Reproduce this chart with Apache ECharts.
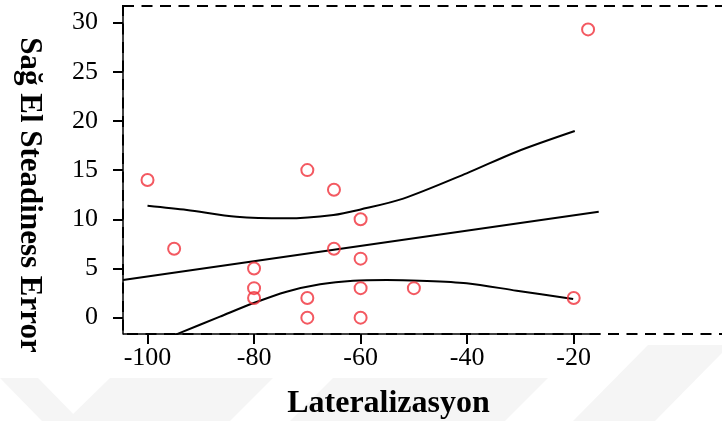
<!DOCTYPE html>
<html>
<head>
<meta charset="utf-8">
<script src="https://cdn.jsdelivr.net/npm/echarts@6/dist/echarts.min.js"></script>
<style>
  html, body { margin: 0; padding: 0; background: #fff; }
  #chart { width: 722px; height: 421px; }
</style>
</head>
<body>
<div id="chart"></div>
<script>
// Lateralizasyon vs Sag El Steadiness Error - scatter with fit line and CI bands

const FONT = '"Liberation Serif", "DejaVu Serif", serif';
const RED = '#f0303a';

const xTicks = [-100, -80, -60, -40, -20];
const yTicks = [0, 5, 10, 15, 20, 25, 30];

// observations
const lateral = [-100, -95, -80, -80, -80, -70, -70, -70, -65, -65, -60, -60, -60, -60, -50, -20, -17.3];
const errorVals = [14, 7, 5, 3, 2, 15, 2, 0, 13, 7, 10, 6, 3, 0, 3, 2, 29.3];

// fit line
const fitX = [-104.6, -15.3];
const fitY = [3.83, 10.77];

// upper / lower confidence curves
const upperX = [-100, -92.6, -83.3, -73.9, -65.1, -60, -52, -40.1, -30.7, -19.8];
const upperY = [11.38, 10.95, 10.26, 10.1, 10.44, 11.0, 12.1, 14.67, 16.87, 18.97];
const lowerX = [-100, -93.9, -86.4, -80.2, -73.9, -67.6, -61.4, -55.1, -48.9, -40.1, -30.7, -20.1];
const lowerY = [-2.9, -1.55, 0.1, 1.46, 2.64, 3.39, 3.76, 3.83, 3.76, 3.5, 2.74, 1.9];

const zip = (xs, ys) => xs.map((x, i) => [x, ys[i]]);

const chart = echarts.init(document.getElementById('chart'));

const lineSeries = (data) => ({
  type: 'line',
  data: data,
  smooth: 0.3,
  symbol: 'none',
  lineStyle: { color: '#000', width: 2 },
  clip: true,
  z: 2,
  silent: true,
});

chart.setOption({
  animation: false,
  backgroundColor: '#fff',
  grid: {
    left: 123, top: 6, right: -3, bottom: 87,
    outerBoundsMode: 'none',
    containLabel: false,
    show: true, borderColor: '#000', borderWidth: 2, borderType: [11, 7.5],
  },
  xAxis: {
    type: 'value',
    min: -104.6, max: 8.4,
    name: 'Lateralizasyon',
    nameLocation: 'middle',
    nameGap: 54,
    nameTextStyle: { fontFamily: FONT, fontSize: 32, fontWeight: 'bold', color: '#000', padding: [0, 71, 0, 0] },
    axisLine: { show: false, onZero: false },
    axisTick: { show: true, customValues: xTicks, length: 10, lineStyle: { color: '#000', width: 2 } },
    axisLabel: { customValues: xTicks, fontFamily: FONT, fontSize: 26, color: '#000', margin: 11 },
    splitLine: { show: false },
  },
  yAxis: {
    type: 'value',
    min: -1.66, max: 31.68,
    name: 'Sağ El Steadiness Error',
    nameLocation: 'middle',
    nameRotate: -90,
    nameGap: 78,
    nameTextStyle: { fontFamily: FONT, fontSize: 31, fontWeight: 'bold', color: '#000', padding: [0, 0, 0, 50] },
    axisLine: { show: true, onZero: false, lineStyle: { color: '#000', width: 1.5 } },
    axisTick: { show: true, customValues: yTicks, length: 10, lineStyle: { color: '#000', width: 2 } },
    axisLabel: { customValues: yTicks, fontFamily: FONT, fontSize: 26, color: '#000', margin: 25 },
    splitLine: { show: false },
  },
  series: [
    lineSeries(zip(fitX, fitY)),
    lineSeries(zip(upperX, upperY)),
    lineSeries(zip(lowerX, lowerY)),
    {
      type: 'scatter',
      data: zip(lateral, errorVals),
      symbol: 'circle',
      symbolSize: 12,
      itemStyle: { color: 'transparent', borderColor: RED, borderWidth: 2 },
      z: 3,
    },
  ],
});

// solid part of the bottom axis + faint watermark shapes
const x0 = chart.convertToPixel({ xAxisIndex: 0 }, -104.6);
const x1 = chart.convertToPixel({ xAxisIndex: 0 }, -15);
const yb = chart.convertToPixel({ yAxisIndex: 0 }, -1.66);
const wm = { fill: '#f5f5f5' };
chart.setOption({
  graphic: [
    { type: 'line', shape: { x1: x0, y1: yb, x2: x1, y2: yb }, style: { stroke: '#000', lineWidth: 1.5 }, z: 5 },
    { type: 'polygon', z: -10, shape: { points: [[0, 378], [38, 378], [80, 421], [42, 421]] }, style: wm },
    { type: 'polygon', z: -10, shape: { points: [[110, 378], [273, 378], [230, 421], [66, 421]] }, style: wm },
    { type: 'polygon', z: -10, shape: { points: [[333, 378], [548, 378], [505, 421], [290, 421]] }, style: wm },
    { type: 'polygon', z: -10, shape: { points: [[648, 345], [730, 345], [655, 421], [573, 421]] }, style: wm },
  ],
});

window.addEventListener('resize', () => chart.resize());
</script>
</body>
</html>
